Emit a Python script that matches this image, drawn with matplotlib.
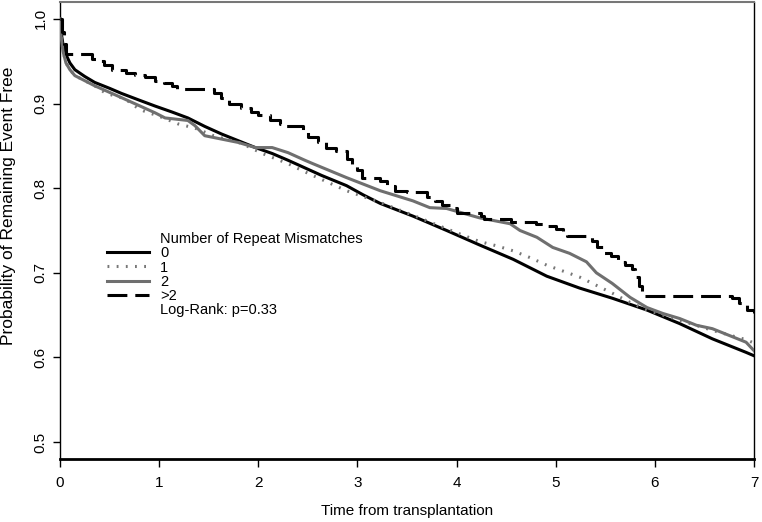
import numpy as np
import matplotlib.pyplot as plt
from matplotlib.lines import Line2D

plt.rcParams['font.family'] = ['Liberation Sans', 'DejaVu Sans']

# Kaplan-Meier curves (years, survival)
t_0 = [0, 0.01, 0.03, 0.06, 0.1, 0.15, 0.25, 0.35, 0.5, 0.62, 0.8, 0.96, 1.13, 1.29, 1.46,
       1.63, 1.80, 1.97, 2.14, 2.30, 2.47, 2.64, 2.89, 3.06, 3.23, 3.56, 3.90, 4.23, 4.57,
       4.91, 5.24, 5.57, 5.92, 6.25, 6.58, 6.92, 7.0]
s_0 = [1.0, 0.985, 0.970, 0.958, 0.948, 0.940, 0.932, 0.925, 0.918, 0.912, 0.904, 0.897,
       0.890, 0.883, 0.873, 0.864, 0.856, 0.848, 0.841, 0.833, 0.824, 0.815, 0.803, 0.792,
       0.782, 0.767, 0.750, 0.733, 0.716, 0.696, 0.682, 0.670, 0.656, 0.640, 0.622, 0.606,
       0.602]

t_1 = [0, 0.01, 0.03, 0.06, 0.1, 0.15, 0.35, 0.45, 0.55, 0.65, 0.78, 0.85, 1.0, 1.19, 1.36,
       1.55, 1.83, 2.04, 2.30, 2.44, 2.55, 2.89, 3.23, 3.56, 3.90, 4.23, 4.40, 4.57, 4.74,
       4.91, 5.24, 5.57, 5.75, 5.92, 6.25, 6.58, 6.92, 7.0]
s_1 = [1.0, 0.98, 0.962, 0.948, 0.940, 0.933, 0.921, 0.913, 0.909, 0.906, 0.895, 0.891,
       0.885, 0.876, 0.871, 0.862, 0.853, 0.841, 0.829, 0.821, 0.815, 0.797, 0.783, 0.768,
       0.752, 0.737, 0.732, 0.726, 0.718, 0.709, 0.695, 0.676, 0.665, 0.656, 0.644, 0.632,
       0.621, 0.617]

t_2 = [0, 0.01, 0.03, 0.06, 0.1, 0.15, 0.35, 0.62, 0.96, 1.06, 1.29, 1.36, 1.46, 1.63, 1.80,
       1.97, 2.14, 2.30, 2.47, 2.55, 2.89, 3.23, 3.56, 3.73, 3.90, 4.23, 4.54, 4.64, 4.81,
       4.97, 5.14, 5.31, 5.41, 5.57, 5.75, 5.92, 6.08, 6.25, 6.42, 6.58, 6.75, 6.92, 7.0]
s_2 = [1.0, 0.98, 0.962, 0.948, 0.940, 0.933, 0.921, 0.907, 0.889, 0.883, 0.880, 0.874,
       0.862, 0.858, 0.854, 0.848, 0.848, 0.842, 0.833, 0.829, 0.8125, 0.797, 0.785, 0.777,
       0.776, 0.765, 0.758, 0.750, 0.742, 0.730, 0.723, 0.713, 0.700, 0.6875, 0.671, 0.659,
       0.652, 0.646, 0.638, 0.634, 0.626, 0.618, 0.608]

t_3 = [0, 0.02, 0.04, 0.06, 0.32, 0.38, 0.44, 0.52, 0.67, 0.76, 0.86, 0.96, 1.05, 1.13,
       1.18, 1.55, 1.62, 1.70, 1.83, 1.93, 2.00, 2.12, 2.22, 2.27, 2.45, 2.50, 2.60, 2.68,
       2.78, 2.89, 2.95, 3.00, 3.05, 3.23, 3.30, 3.38, 3.50, 3.70, 3.78, 3.85, 3.95, 4.00,
       4.25, 4.28, 4.55, 4.80, 4.90, 5.00, 5.07, 5.11, 5.37, 5.42, 5.49, 5.56, 5.63, 5.70,
       5.77, 5.80, 5.84, 5.87, 6.78, 6.85, 6.93, 7.0]
s_3 = [1.0, 0.985, 0.970, 0.958, 0.953, 0.950, 0.946, 0.940, 0.936, 0.934, 0.931, 0.927,
       0.924, 0.921, 0.917, 0.912, 0.906, 0.900, 0.895, 0.890, 0.886, 0.880, 0.876, 0.873,
       0.866, 0.860, 0.855, 0.848, 0.844, 0.835, 0.828, 0.821, 0.812, 0.808, 0.803, 0.797,
       0.795, 0.790, 0.785, 0.780, 0.776, 0.771, 0.767, 0.764, 0.760, 0.758, 0.755, 0.752,
       0.748, 0.743, 0.738, 0.730, 0.723, 0.720, 0.713, 0.709, 0.705, 0.695, 0.685, 0.673,
       0.670, 0.664, 0.656, 0.653]

groups = ['0', '1', '2', '>2']
title = 'Number of Repeat Mismatches'
logrank = 'Log-Rank: p=0.33'
xticks = [0, 1, 2, 3, 4, 5, 6, 7]
yticks = [0.5, 0.6, 0.7, 0.8, 0.9, 1.0]

fig = plt.figure(figsize=(7.62, 5.22), dpi=100)
ax = fig.add_axes([60 / 762, 1 - 459 / 522, 694 / 762, 457 / 522])

lw = 2.2
grey = '#6f6f6f'
l0, = ax.plot(t_0, s_0, color='black', lw=lw, zorder=3)
l1, = ax.plot(t_1, s_1, color='#777777', lw=lw, linestyle=(0, (0.6, 2.4)), zorder=4)
l2, = ax.plot(t_2, s_2, color=grey, lw=lw, zorder=5)
l3, = ax.plot(t_3, s_3, color='black', lw=lw, dashes=(6.5, 2.6), drawstyle='steps-post',
              zorder=6)

ax.set_xlim(0, 7)
ax.set_ylim(0.48, 1.02)
ax.set_xticks(xticks)
ax.set_yticks(yticks)
ax.set_yticklabels(['%.1f' % v for v in yticks], rotation=90, va='center')
ax.tick_params(axis='y', length=5, width=1, pad=4, labelsize=11)
ax.tick_params(axis='x', length=6, width=1, pad=6, labelsize=11)

ax.spines['bottom'].set_linewidth(2)
ax.spines['left'].set_linewidth(1)
ax.spines['right'].set_linewidth(1)
ax.spines['top'].set_linewidth(1.5)
ax.spines['top'].set_color('#777777')

ax.set_xlabel('Time from transplantation', fontsize=11, labelpad=10)
fig.text(9 / 762, 1 - 206 / 522, 'Probability of Remaining Event Free', rotation=90,
         ha='center', va='center', fontsize=12.5)

blank = Line2D([], [], linestyle='none')
handles = [blank, l0, l1, l2, l3, blank]
labels = [title] + groups + [logrank]
leg = ax.legend(handles, labels, loc='upper left', bbox_to_anchor=(107 / 762, 1 - 232 / 522),
                bbox_transform=fig.transFigure, frameon=False, fontsize=10.5,
                handlelength=2.9, handletextpad=0.75, labelspacing=0.02, borderpad=0,
                borderaxespad=0)

fig.savefig('out.png', dpi=100)
